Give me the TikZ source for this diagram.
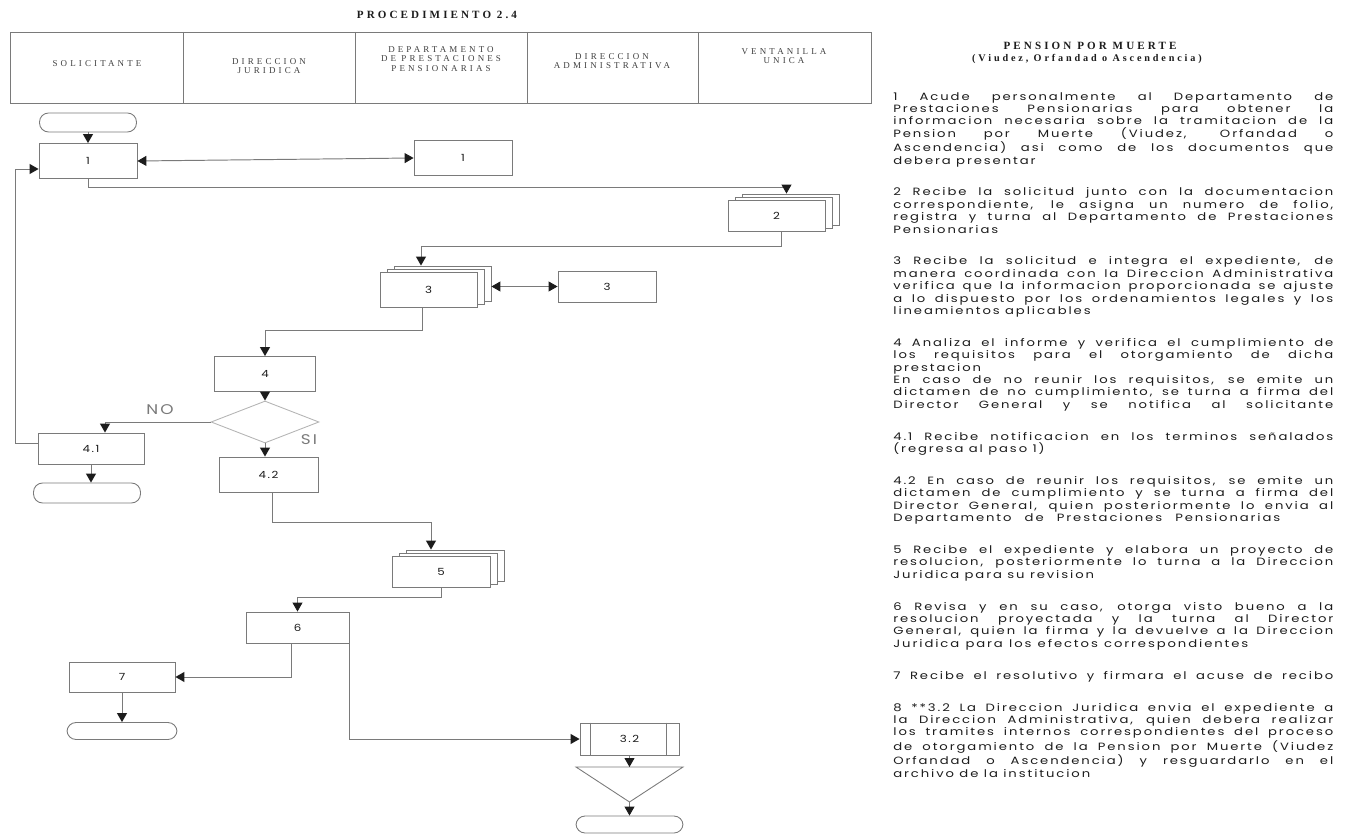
\documentclass[tikz,border=0pt]{standalone}
\usepackage{fontspec}
\usetikzlibrary{positioning,arrows.meta,shapes.geometric,shadows}
\newfontfamily\scanSans[FakeStretch=1.2,LetterSpace=15]{Poppins}
\newfontfamily\scanBody[FakeStretch=1.25,LetterSpace=18]{Poppins}
\newfontfamily\scanSerif[LetterSpace=35]{Liberation Serif}
\newfontfamily\scanSerifTitle[LetterSpace=28]{Liberation Serif}
\newcommand\paraEnd[1]{{\parfillskip=#1\par}}
\definecolor{ink}{HTML}{1C1C1C}
\definecolor{scanGray}{HTML}{7A7A7A}
\definecolor{faintGray}{HTML}{B4B4B4}
\tikzset{
  task box/.style={
    rectangle,
    draw=scanGray,
    fill=white,
    line width=0.5pt,
    inner sep=0pt,
    font=\scanSans\fontsize{5.6}{6}\selectfont,
    text=ink
  },
  stack box/.style={
    task box,
    copy shadow={shadow xshift=0.28cm,shadow yshift=0.12cm,draw=scanGray,fill=white},
    copy shadow={shadow xshift=0.14cm,shadow yshift=0.06cm,draw=scanGray,fill=white}
  },
  term box/.style={
    task box,
    rounded corners=0.18cm
  },
  choice box/.style={
    diamond,
    draw=faintGray,
    line width=0.5pt,
    inner sep=0pt,
    minimum width=2.16cm,
    minimum height=0.84cm
  },
  flow edge/.style={
    -{Triangle[length=1.8mm,width=2mm,color=ink]},
    draw=scanGray,
    line width=0.55pt
  },
  link edge/.style={
    {Triangle[length=1.8mm,width=2mm,color=ink]}-{Triangle[length=1.8mm,width=2mm,color=ink]},
    draw=scanGray,
    line width=0.55pt
  },
  lane frame/.style={
    draw=scanGray,
    line width=0.5pt
  },
  lane label/.style={
    font=\scanSerif\fontsize{5.1}{5.4}\selectfont,
    align=center,
    text=ink!85
  },
  branch label/.style={
    font=\scanSans\fontsize{8}{9}\selectfont,
    text=scanGray
  },
  page title/.style={
    font=\scanSerifTitle\bfseries\fontsize{6.3}{7}\selectfont,
    align=center,
    text=ink
  },
  steps text/.style={
    font=\scanBody\fontsize{6}{7.05}\selectfont,
    text width=8.8cm,
    align=justify,
    inner sep=0pt,
    text=ink
  }
}

\begin{document}
\begin{tikzpicture}[x=0.02cm,y=-0.02cm]
  \useasboundingbox (0,0) rectangle (1352,834);

  % encabezado
  \node[page title] (titulo) at (437,15) {PROCEDIMIENTO 2.4};
  \draw[lane frame] (10,32) rectangle (871,103);
  \foreach \x in {183,355,527,698}
    \draw[lane frame] (\x,32) -- (\x,103);
  \node[lane label] (lane1) at (97,64) {SOLICITANTE};
  \node[lane label] (lane2) at (269,66) {DIRECCION\\JURIDICA};
  \node[lane label] (lane3) at (441,59) {DEPARTAMENTO\\DE PRESTACIONES\\PENSIONARIAS};
  \node[lane label] (lane4) at (612,61) {DIRECCION\\ADMINISTRATIVA};
  \node[lane label] (lane5) at (784,56) {VENTANILLA\\UNICA};

  % diagrama
  \node[term box,minimum width=1.94cm,minimum height=0.38cm] (t0) at (88,122.5) {};
  \node[task box,minimum width=1.96cm,minimum height=0.7cm] (b1) at (88,161) {1};
  \node[task box,minimum width=1.96cm,minimum height=0.7cm] (b1v) at (463,158) {1};
  \node[stack box,minimum width=1.94cm,minimum height=0.62cm] (b2) at (776.5,215.5) {2};
  \node[stack box,minimum width=1.94cm,minimum height=0.7cm] (b3) at (428.5,289.5) {3};
  \node[task box,minimum width=1.96cm,minimum height=0.62cm] (b3a) at (607,286.5) {3};
  \node[task box,minimum width=2.02cm,minimum height=0.7cm] (b4) at (265,374) {4};
  \node[choice box] (choice) at (265,422) {};
  \node[task box,minimum width=2.12cm,minimum height=0.62cm] (b41) at (91,448.5) {4.1};
  \node[term box,minimum width=2.14cm,minimum height=0.4cm] (t41) at (87,493) {};
  \node[task box,minimum width=1.98cm,minimum height=0.7cm] (b42) at (268.5,474.5) {4.2};
  \node[stack box,minimum width=1.96cm,minimum height=0.62cm] (b5) at (441,571.5) {5};
  \node[task box,minimum width=2.06cm,minimum height=0.62cm] (b6) at (297.5,627.5) {6};
  \node[task box,minimum width=2.12cm,minimum height=0.6cm] (b7) at (122,677) {7};
  \node[term box,minimum width=2.2cm,minimum height=0.34cm] (t7) at (122,731) {};
  \node[task box,minimum width=1.98cm,minimum height=0.64cm] (b32) at (629.5,739) {3.2};
  \draw[lane frame] ([xshift=0.22cm]b32.north west) -- ([xshift=0.22cm]b32.south west);
  \draw[lane frame] ([xshift=-0.26cm]b32.north east) -- ([xshift=-0.26cm]b32.south east);
  \coordinate (arcTop) at (629.5,767);
  \coordinate (arcApex) at (629.5,802);
  \draw[lane frame] (576,767) -- (683,767) -- (arcApex) -- cycle;
  \node[term box,minimum width=2.14cm,minimum height=0.34cm] (tEnd) at (629.5,824.5) {};

  \node[branch label] (no) at (160,410) {NO};
  \node[branch label] (si) at (309,440) {SI};

  \draw[flow edge] (t0.south) -- (b1.north);
  \draw[link edge] (b1.east) -- (b1v.west);
  \draw[flow edge] (b1.south) -- ++(0,9) -| ([xshift=0.2cm,yshift=0.12cm]b2.north);
  \draw[flow edge] ([xshift=0.1cm]b2.south) -- ++(0,15) -| ([xshift=-0.15cm,yshift=0.12cm]b3.north);
  \draw[link edge] ([xshift=0.28cm,yshift=0.06cm]b3.east) -- (b3a.west);
  \draw[flow edge] ([xshift=-0.13cm]b3.south) -- ++(0,23) -| (b4.north);
  \draw[flow edge] (b4.south) -- (choice.north);
  \draw[flow edge] (choice.west) -| ([xshift=0.28cm]b41.north);
  \draw[flow edge] (choice.south) -- (choice.south |- b42.north);
  \draw[flow edge] (b41.south) -- (b41.south |- t41.north);
  \draw[flow edge] ([yshift=0.1cm]b41.west) -- ++(-22,0) |- ([yshift=-0.16cm]b1.west);
  \draw[flow edge] ([xshift=0.07cm]b42.south) -- ++(0,30) -| ([xshift=-0.2cm,yshift=0.12cm]b5.north);
  \draw[flow edge] (b5.south) -- ++(0,10) -| (b6.north);
  \draw[flow edge] ([xshift=-0.13cm]b6.south) |- (b7.east);
  \draw[flow edge] (b7.south) -- (t7.north);
  \draw[flow edge] (b6.south east) |- (b32.west);
  \draw[flow edge] (b32.south) -- (arcTop);
  \draw[flow edge] (arcApex) -- (tEnd.north);

  % descripcion
  \node[page title] (pension) at (1090,46) {PENSION POR MUERTE};
  \node[page title,font=\scanSerifTitle\bfseries\fontsize{5.8}{6}\selectfont] (tipos) at (1087,59) {(Viudez, Orfandad o Ascendencia)};
  \node[steps text,anchor=north west] (pasos) at (893,92) {%
    \setlength{\parskip}{11.1pt}%
    1 Acude personalmente al Departamento de\linebreak
    Prestaciones Pensionarias para obtener la\linebreak
    informacion necesaria sobre la tramitacion de la\linebreak
    Pension por Muerte (Viudez, Orfandad o\linebreak
    Ascendencia) asi como de los documentos que\linebreak
    debera presentar\par
    2 Recibe la solicitud junto con la documentacion\linebreak
    correspondiente, le asigna un numero de folio,\linebreak
    registra y turna al Departamento de Prestaciones\linebreak
    Pensionarias\par
    3 Recibe la solicitud e integra el expediente, de\linebreak
    manera coordinada con la Direccion Administrativa\linebreak
    verifica que la informacion proporcionada se ajuste\linebreak
    a lo dispuesto por los ordenamientos legales y los\linebreak
    lineamientos aplicables\par
    4 Analiza el informe y verifica el cumplimiento de\linebreak
    los requisitos para el otorgamiento de dicha\linebreak
    prestacion\hfill\break
    En caso de no reunir los requisitos, se emite un\linebreak
    dictamen de no cumplimiento, se turna a firma del\linebreak
    Director General y se notifica al solicitante\paraEnd{0pt}
    4.1 Recibe notificacion en los terminos señalados\linebreak
    (regresa al paso 1)\par
    4.2 En caso de reunir los requisitos, se emite un\linebreak
    dictamen de cumplimiento y se turna a firma del\linebreak
    Director General, quien posteriormente lo envia al\linebreak
    Departamento de Prestaciones Pensionarias\paraEnd{1.06cm}
    5 Recibe el expediente y elabora un proyecto de\linebreak
    resolucion, posteriormente lo turna a la Direccion\linebreak
    Juridica para su revision\par
    6 Revisa y en su caso, otorga visto bueno a la\linebreak
    resolucion proyectada y la turna al Director\linebreak
    General, quien la firma y la devuelve a la Direccion\linebreak
    Juridica para los efectos correspondientes\paraEnd{1.7cm}
    7 Recibe el resolutivo y firmara el acuse de recibo\paraEnd{0pt}
    8 **3.2 La Direccion Juridica envia el expediente a\linebreak
    la Direccion Administrativa, quien debera realizar\linebreak
    los tramites internos correspondientes del proceso\linebreak
    de otorgamiento de la Pension por Muerte (Viudez\linebreak
    Orfandad o Ascendencia) y resguardarlo en el\linebreak
    archivo de la institucion};
\end{tikzpicture}
\end{document}
